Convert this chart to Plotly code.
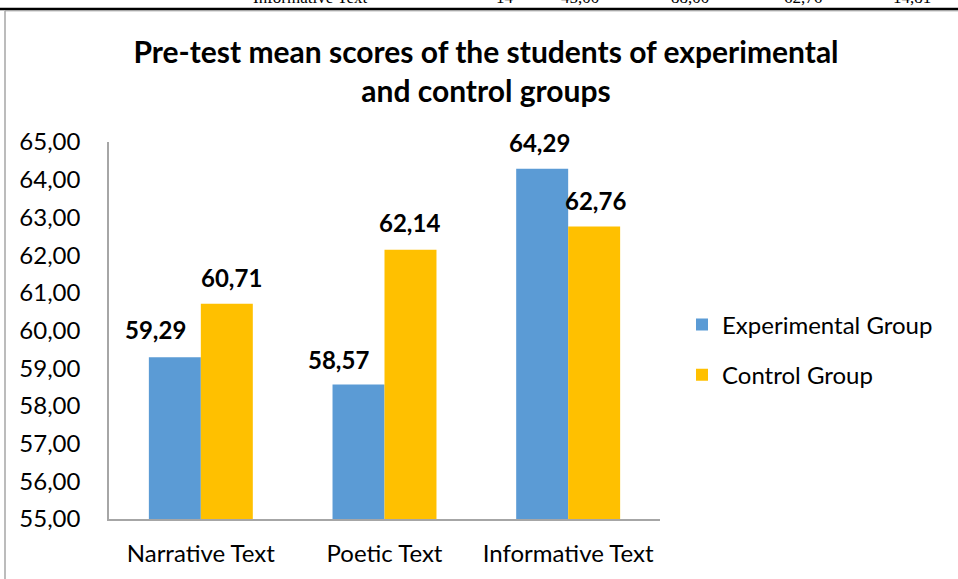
import plotly.graph_objects as go

categories = ["Narrative Text", "Poetic Text", "Informative Text"]
experimental = [59.29, 58.57, 64.29]
control = [60.71, 62.14, 62.76]
series_names = ["Experimental Group", "Control Group"]
y_ticks = [55, 56, 57, 58, 59, 60, 61, 62, 63, 64, 65]
title_text = "Pre-test mean scores of the students of experimental<br>and control groups"
# clipped table row visible at the very top of the reference
top_row = ["Informative Text", "14", "45,00", "88,00", "62,76", "14,81"]

BLUE = "#5B9BD5"
GOLD = "#FFC000"
AXIS = "#A6A6A6"
FONT = "Lato"

# plot area in pixels
L, R, T, B = 109, 660, 142, 519
W, H = 958, 579

def px_x(p):
    return (p - L) / (R - L)

def px_y(p):
    return (B - p) / (B - T)

fig = go.Figure()
fig.add_trace(go.Bar(x=categories, y=experimental, name=series_names[0],
                     marker=dict(color=BLUE, line=dict(width=0)), legendgroup="a"))
fig.add_trace(go.Bar(x=categories, y=control, name=series_names[1],
                     marker=dict(color=GOLD, line=dict(width=0)), legendgroup="b"))

annotations = []
# data labels
blue_dx = [-19, -20, -3]
gold_dx = [5, -1, 1]
blue_dy = [28, 25, 26]
gold_dy = [26, 27, 26]
bar_half = 26
for i, c in enumerate(categories):
    for vals, base, extra, dy in ((experimental, -bar_half, blue_dx, blue_dy),
                                  (control, bar_half, gold_dx, gold_dy)):
        v = vals[i]
        annotations.append(dict(
            x=c, y=v, xref="x", yref="y", text="<b>" + f"{v:.2f}".replace(".", ",") + "</b>",
            showarrow=False, xanchor="center", yanchor="middle",
            xshift=base + extra[i], yshift=dy[i],
            font=dict(family=FONT, size=24, color="#000000")))

# clipped top row text
top_x = [310, 505, 580, 690, 803, 912]
for t, px in zip(top_row, top_x):
    annotations.append(dict(
        x=px_x(px), y=px_y(-3), xref="paper", yref="paper", text=t, showarrow=False,
        xanchor="center", yanchor="middle",
        font=dict(family="Liberation Serif", size=17, color="#000000")))

shapes = [
    dict(type="line", xref="paper", yref="paper", x0=px_x(5), x1=px_x(W + 5),
         y0=px_y(11), y1=px_y(11), line=dict(color="#BFBFBF", width=1)),
    dict(type="line", xref="paper", yref="paper", x0=px_x(5), x1=px_x(5),
         y0=px_y(11), y1=px_y(H + 5), line=dict(color="#A6A6A6", width=1.5)),
    dict(type="line", xref="paper", yref="paper", x0=px_x(-5), x1=px_x(W + 5),
         y0=px_y(9), y1=px_y(9), line=dict(color="#000000", width=2.5)),
]

fig.update_layout(
    width=W, height=H,
    margin=dict(l=L, r=W - R, t=T, b=H - B, pad=0, autoexpand=False),
    paper_bgcolor="white", plot_bgcolor="white",
    separators=", ",
    barmode="group", bargap=0.434, bargroupgap=0,
    font=dict(family=FONT, size=24, color="#000000"),
    title=dict(text="<b>" + title_text + "</b>", xref="container", yref="container",
               x=486 / W, y=1 - 63 / H, xanchor="center", yanchor="middle",
               font=dict(family=FONT, size=30, color="#000000")),
    legend=dict(x=px_x(682), y=px_y(350), xanchor="left", yanchor="middle",
                font=dict(family=FONT, size=24, color="#000000"),
                tracegroupgap=16, bgcolor="rgba(0,0,0,0)"),
    xaxis=dict(showline=True, linecolor=AXIS, linewidth=1.5, showgrid=False, automargin=False,
               ticks="", tickfont=dict(family=FONT, size=24), ticklabelstandoff=12),
    yaxis=dict(range=[55, 65], tickvals=y_ticks, tickformat=".2f", showline=True, automargin=False,
               linecolor=AXIS, linewidth=1.5, showgrid=False, ticks="",
               tickfont=dict(family=FONT, size=24), ticklabelstandoff=22, zeroline=False),
    annotations=annotations,
    shapes=shapes,
)

fig.write_html("out.html", config={"displayModeBar": False},
               post_script="document.body.style.margin='0px';")
